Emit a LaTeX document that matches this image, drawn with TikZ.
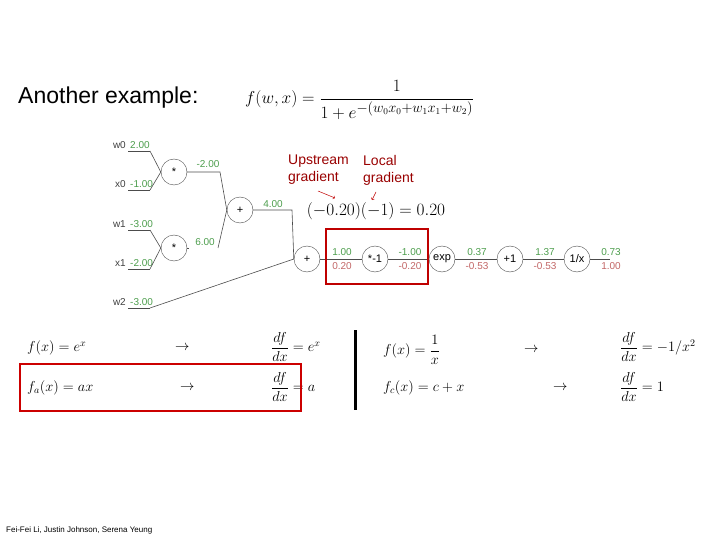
\documentclass[tikz,border=0pt]{standalone}
\usepackage{fontspec}
\setsansfont{Liberation Sans}
\newfontfamily\rob{Liberation Sans}
\usepackage{amsmath}
\begin{document}
\begin{tikzpicture}[x=1pt,y=-1pt,
  op/.style={draw=black!70,circle,minimum size=26pt,inner sep=0pt,font=\rob\fontsize{11}{11}\selectfont},
  ln/.style={draw=black!70,line width=0.6pt},
  gv/.style={text=green!45!black!70,font=\rob\fontsize{10}{10}\selectfont,inner sep=1pt},
  rv/.style={text=red!60!black!60,font=\rob\fontsize{10}{10}\selectfont,inner sep=1pt},
  lab/.style={text=black!75,font=\rob\fontsize{10}{10}\selectfont,inner sep=1pt},
  ann/.style={text=red!60!black,font=\rob\fontsize{14}{17}\selectfont,align=left,inner sep=0pt,anchor=north west},
  fm/.style={inner sep=0pt,anchor=west,font=\fontsize{14}{16}\selectfont}]
\useasboundingbox (0,0) rectangle (720,540);
\node[anchor=west,inner sep=0pt,font=\rob\fontsize{23}{24}\selectfont] (title) at (18,98) {Another example:};
\node[anchor=west,inner sep=0pt,font=\fontsize{19}{21}\selectfont] (fw) at (245,100) {$f(w,x)=\dfrac{1}{1+e^{-(w_0x_0+w_1x_1+w_2)}}$};
% nodes
\node[op] (m1) at (174,172) {*};
\node[op] (m2) at (174,248) {*};
\node[op] (p1) at (240,210) {+};
\node[op] (p2) at (307,259) {+};
\node[op] (n1) at (375,259) {*-1};
\node[op] (ex) at (442,259) {exp};
\node[op] (pl) at (510,259) {+1};
\node[op] (inv) at (577,259) {1/x};
% inputs
\foreach \n/\v/\y in {w0/2.00/145, x0/-1.00/184, w1/-3.00/224, x1/-2.00/263, w2/-3.00/302}{
  \node[lab,anchor=east] (l\n) at (127,\y) {\n};
  \node[gv,anchor=west] (v\n) at (129,\y) {\v};
  \coordinate (e\n) at (150,\y+6);
  \draw[ln] (128,\y+6) -- (e\n);
}
\draw[ln] (ew0) -- (m1.west);
\draw[ln] (ex0) -- (m1.west);
\draw[ln] (ew1) -- (m2.west);
\draw[ln] (ex1) -- (m2.west);
\draw[ln] (ew2) -- (p2.west);
% intermediate
\coordinate (c1) at (220,172);
\draw[ln] (m1.east) -- (c1) -- (p1.west);
\node[gv] (g1) at (208,164) {-2.00};
\coordinate (c2) at (218,248);
\draw[ln] (m2.east) -- (189,248);
\draw[ln] (c2) -- (p1.west);
\node[gv] (g2) at (205,242) {6.00};
\coordinate (c3) at (292,210);
\draw[ln] (p1.east) -- (c3) -- (p2.west);
\node[gv] (g3) at (273,204) {4.00};
% chain
\draw[ln] (p2) -- (n1); \draw[ln] (n1) -- (ex); \draw[ln] (ex) -- (pl); \draw[ln] (pl) -- (inv);
\draw[ln] (inv.east) -- (610,259);
\foreach \x/\g/\r/\nm in {342/1.00/0.20/a, 410/-1.00/-0.20/b, 477/0.37/-0.53/c, 545/1.37/-0.53/d, 611/0.73/1.00/e}{
  \node[gv] (gg\nm) at (\x,252) {\g};
  \node[rv] (rr\nm) at (\x,266) {\r};
}
% red box
\draw[red!75!black,line width=1.8pt] (326,229) rectangle (428,284);
\node[ann] (up) at (288,155) {Upstream\\gradient};
\node[ann] (lo) at (363,155) {Local\\gradient};
\node[inner sep=0pt,font=\fontsize{16}{18}\selectfont] (eq) at (376,211) {$(-0.20)(-1)=0.20$};
\coordinate (ua) at (335,198); \coordinate (ub) at (318,191);
\draw[red!75!black,->,line width=0.5pt] (ub) -- (ua);
\coordinate (la) at (376,192); \coordinate (lb) at (372,200);
\draw[red!75!black,->,line width=0.5pt] (la) -- (lb);
% bottom formulas
\node[fm] (f1) at (27,348) {$f(x)=e^x$};
\node[fm] (a1) at (175,348) {$\rightarrow$};
\node[fm] (d1) at (271,347) {$\dfrac{df}{dx}=e^x$};
\node[fm] (f2) at (27,388) {$f_a(x)=ax$};
\node[fm] (a2) at (180,388) {$\rightarrow$};
\node[fm] (d2) at (271,387) {$\dfrac{df}{dx}=a$};
\node[fm] (f3) at (383,350) {$f(x)=\dfrac{1}{x}$};
\node[fm] (a3) at (524,350) {$\rightarrow$};
\node[fm] (d3) at (620,347) {$\dfrac{df}{dx}=-1/x^2$};
\node[fm] (f4) at (383,388) {$f_c(x)=c+x$};
\node[fm] (a4) at (553,388) {$\rightarrow$};
\node[fm] (d4) at (620,387) {$\dfrac{df}{dx}=1$};
\draw[red!80!black,line width=1.5pt] (20,364) rectangle (301,411);
\draw[black,line width=3pt] (355,330) -- (355,410);
\node[anchor=west,inner sep=0pt,font=\rob\fontsize{8}{8}\selectfont] (cr) at (6,530) {Fei-Fei Li, Justin Johnson, Serena Yeung};
\end{tikzpicture}
\end{document}
